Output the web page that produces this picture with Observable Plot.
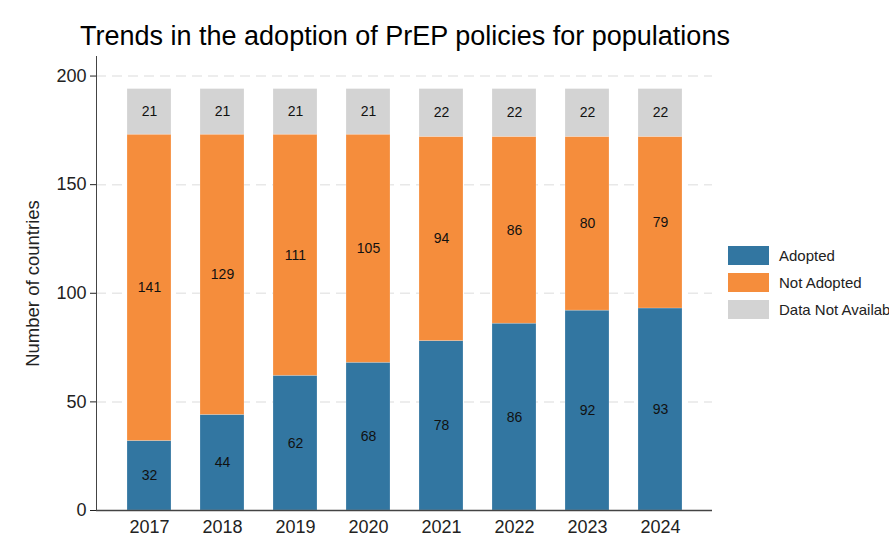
<!DOCTYPE html>
<html>
<head>
<meta charset="utf-8">
<script src="https://cdn.jsdelivr.net/npm/d3@7"></script>
<script src="https://cdn.jsdelivr.net/npm/@observablehq/plot@0.6"></script>
<style>
  html, body { margin: 0; padding: 0; background: #fff; overflow: hidden; }
  #wrap { position: relative; width: 889px; height: 536px; overflow: hidden; font-family: "Liberation Sans", Arial, sans-serif; }
  #title { position: absolute; left: 80px; top: 21px; font-size: 27px; color: #000; white-space: nowrap; }
  #legend { position: absolute; left: 728px; top: 246px; white-space: nowrap; }
  .item { display: flex; align-items: center; height: 19px; margin-bottom: 8px; }
  .sw { width: 41px; height: 19px; margin-right: 10px; flex: none; }
  .lab { font-size: 15px; color: #222; }
  #chart { position: absolute; left: 0; top: 0; }
</style>
</head>
<body>
<div id="wrap">
  <div id="chart"></div>
  <div id="title">Trends in the adoption of PrEP policies for populations</div>
  <div id="legend"></div>
</div>
<script>
const years = ["2017","2018","2019","2020","2021","2022","2023","2024"];
const adopted = [32,44,62,68,78,86,92,93];
const notAdopted = [141,129,111,105,94,86,80,79];
const dataNotAvailable = [21,21,21,21,22,22,22,22];
const seriesNames = ["Adopted","Not Adopted","Data Not Available"];
const seriesColors = ["#3276a1","#f58d3c","#d3d3d3"];
const yTicks = [0,50,100,150,200];

const seriesValues = [adopted, notAdopted, dataNotAvailable];
const data = [];
years.forEach((yr, i) => {
  seriesNames.forEach((s, j) => data.push({year: yr, status: s, value: seriesValues[j][i]}));
});

const plot = Plot.plot({
  width: 889,
  height: 536,
  marginTop: 56,
  marginBottom: 26,
  marginLeft: 96,
  marginRight: 177,
  style: {fontFamily: "'Liberation Sans', Arial, sans-serif", background: "transparent"},
  x: {domain: years, paddingInner: 0.4, paddingOuter: 0.37, label: null},
  y: {domain: [0, 209], label: null},
  color: {domain: seriesNames, range: seriesColors},
  marks: [
    Plot.gridY(yTicks.filter(d => d > 0), {stroke: "#e8e8e8", strokeOpacity: 1, strokeWidth: 1.5, strokeDasharray: "10,6"}),
    Plot.barY(data, Plot.stackY({x: "year", y: "value", fill: "status", order: null, stroke: "#ffffff", strokeOpacity: 0.25, strokeWidth: 0.8})),
    Plot.text(data, Plot.stackY({x: "year", y: "value", z: "status", order: null, text: d => String(d.value), fontSize: 14, fill: "#111"})),
    Plot.axisY({ticks: yTicks, tickSize: 6, tickPadding: 4, fontSize: 18, color: "#222", label: null}),
    Plot.axisX({tickSize: 0, tickPadding: 10, fontSize: 18, color: "#222", label: null}),
    Plot.frame({anchor: "left", stroke: "#444"}),
    Plot.ruleY([0], {stroke: "#444", strokeWidth: 1.3}),
    Plot.text(["Number of countries"], {frameAnchor: "left", dx: -63, rotate: -90, fontSize: 18.5, fill: "#222", textAnchor: "middle"})
  ]
});
document.getElementById("chart").appendChild(plot);

const legend = document.getElementById("legend");
seriesNames.forEach((s, j) => {
  const it = document.createElement("div");
  it.className = "item";
  it.innerHTML = `<div class="sw" style="background:${seriesColors[j]}"></div><div class="lab">${s}</div>`;
  legend.appendChild(it);
});
</script>
</body>
</html>
